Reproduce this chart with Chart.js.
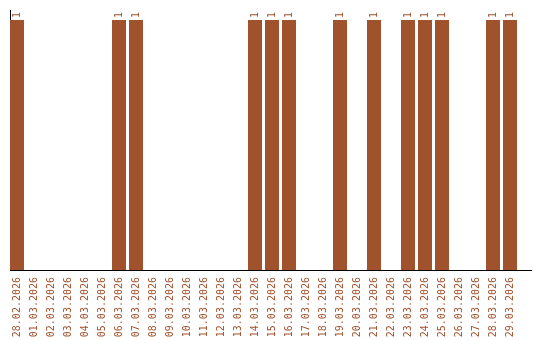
<!DOCTYPE html>
<html>
<head>
<meta charset="utf-8">
<style>
  html, body { margin: 0; padding: 0; background: #fff; }
</style>
<script src="https://cdn.jsdelivr.net/npm/chart.js@4"></script>
</head>
<body>
<canvas id="myBar" width="540" height="340"></canvas>
<script>
  const dates = ['28.02.2026', '01.03.2026', '02.03.2026', '03.03.2026', '04.03.2026', '05.03.2026',
    '06.03.2026', '07.03.2026', '08.03.2026', '09.03.2026', '10.03.2026', '11.03.2026',
    '12.03.2026', '13.03.2026', '14.03.2026', '15.03.2026', '16.03.2026', '17.03.2026',
    '18.03.2026', '19.03.2026', '20.03.2026', '21.03.2026', '22.03.2026', '23.03.2026',
    '24.03.2026', '25.03.2026', '26.03.2026', '27.03.2026', '28.03.2026', '29.03.2026'];
  const counts = [1, 0, 0, 0, 0, 0, 1, 1, 0, 0, 0, 0, 0, 0, 1, 1, 1, 0, 0, 1, 0, 1, 0, 1, 1, 1, 0, 0, 1, 1];

  const brown = '#A0522D';

  // value labels above the bars, rotated like the ticks
  const barLabels = {
    id: 'barLabels',
    afterDatasetsDraw(chart) {
      const ctx = chart.ctx;
      const meta = chart.getDatasetMeta(0);
      ctx.save();
      ctx.font = '10px "DejaVu Sans Mono"';
      ctx.fillStyle = brown;
      ctx.textAlign = 'left';
      ctx.textBaseline = 'middle';
      meta.data.forEach((bar, i) => {
        if (!counts[i]) return;
        ctx.save();
        ctx.translate(bar.x, bar.y - 2);
        ctx.rotate(-Math.PI / 2);
        ctx.fillText(String(counts[i]), 0, 0);
        ctx.restore();
      });
      ctx.restore();
    }
  };

  const ctx2 = document.getElementById('myBar');

  const myBar = new Chart(ctx2, {
    type: 'bar',
    data: {
      datasets: [
        {
          data: counts.map((c, i) => ({ x: i, y: c })),
          backgroundColor: brown,
          barThickness: 14,
          borderWidth: 0,
          inflateAmount: 0,
        },
      ]
    },
    plugins: [barLabels],
    options: {
      responsive: false,
      animation: false,
      layout: {
        padding: { left: 10, top: 10, right: 9, bottom: 3 }
      },
      plugins: {
        legend: { display: false },
        tooltip: { enabled: false }
      },
      scales: {
        x: {
          type: 'linear',
          offset: false,
          min: -7 / 17,
          max: 514 / 17,
          grid: { display: false, drawTicks: false },
          border: { display: true, color: '#000', width: 1 },
          afterBuildTicks: (scale) => {
            scale.ticks = dates.map((d, i) => ({ value: i }));
          },
          afterFit: (scale) => {
            scale.height = 67;
          },
          ticks: {
            autoSkip: false,
            minRotation: 90,
            maxRotation: 90,
            padding: 7,
            color: brown,
            font: { family: '"DejaVu Sans Mono"', size: 10 },
            callback: (v) => dates[v]
          }
        },
        y: {
          min: 0,
          max: 1.04,
          grid: { display: false, drawTicks: false },
          border: { display: true, color: '#000', width: 1 },
          ticks: { display: false }
        }
      }
    }
  });
</script>
</body>
</html>
